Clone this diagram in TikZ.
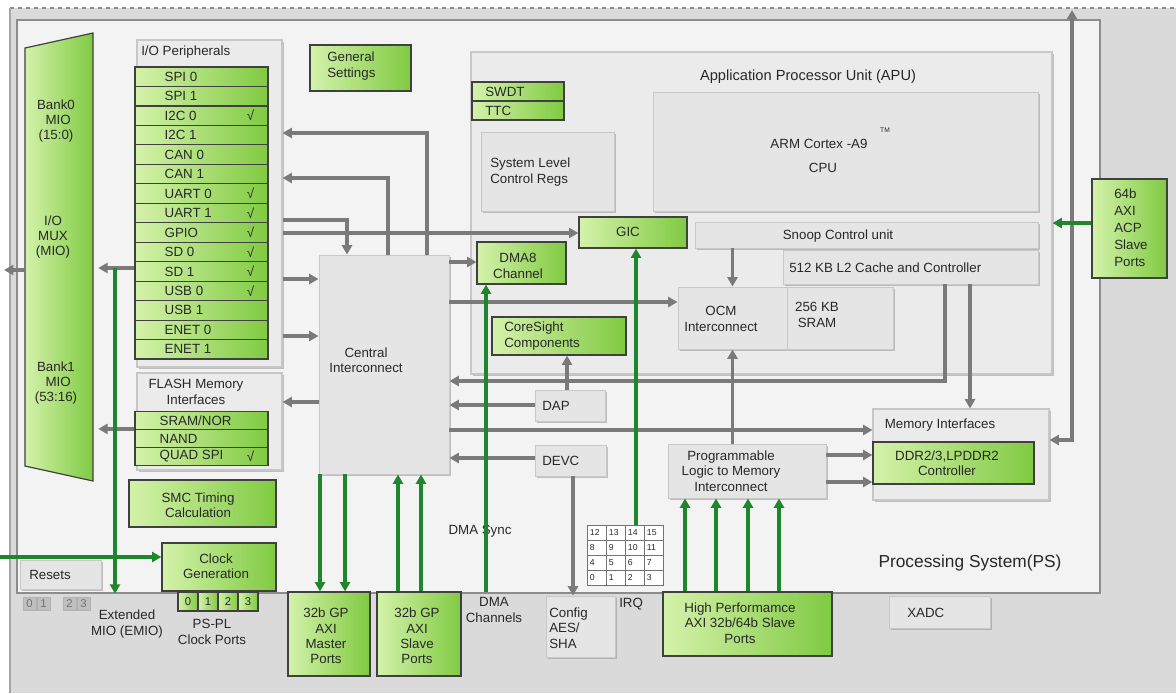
\documentclass[tikz,border=0pt]{standalone}
\usepackage{fontspec}
\setmainfont{Liberation Sans}
\usetikzlibrary{arrows.meta,shadows,fit,calc}
\definecolor{bgc}{RGB}{218,218,218}
\definecolor{psc}{RGB}{243,243,243}
\definecolor{boxc}{RGB}{229,229,229}
\definecolor{boxe}{RGB}{200,200,200}
\definecolor{contc}{RGB}{235,235,235}
\definecolor{gl}{RGB}{212,242,170}
\definecolor{gr}{RGB}{128,202,66}
\definecolor{gline}{RGB}{30,134,44}
\definecolor{arr}{RGB}{122,122,122}
\definecolor{txt}{RGB}{40,40,40}
\newcommand\bx[6]{\node[#1, fit={(#3,#4)(#5,#6)}] (#2) {};}
\tikzset{
  grn/.style={draw=black!75, line width=0.9pt, left color=gl, right color=gr, inner sep=0pt},
  gry/.style={draw=boxe, line width=0.7pt, fill=boxc, inner sep=0pt,
    drop shadow={shadow xshift=1.3pt, shadow yshift=-1.3pt, fill=black!45, opacity=0.5}},
  cont/.style={draw=black!22, line width=0.8pt, fill=contc, inner sep=0pt,
    drop shadow={shadow xshift=1.5pt, shadow yshift=-1.5pt, fill=black!45, opacity=0.5}},
  t/.style={font=\fontsize{10}{11.5}\selectfont, text=txt, inner sep=0pt, align=center},
  tl/.style={t, anchor=west, align=left},
  ga/.style={draw=arr, line width=2.4pt, -{Triangle[length=7pt,width=7.5pt]}},
  gab/.style={draw=arr, line width=2.4pt, {Triangle[length=7pt,width=7.5pt]}-{Triangle[length=7pt,width=7.5pt]}},
  gn/.style={draw=gline, line width=2.6pt, -{Triangle[length=7pt,width=7.5pt]}},
  cell/.style={draw=black!55, line width=0.5pt, fill=white, inner sep=0pt},
}
\begin{document}
\begin{tikzpicture}[x=0.75pt,y=-0.75pt]
\useasboundingbox (0,0) rectangle (1176,693);
\fill[white] (0,0) rectangle (1176,693);
\fill[bgc] (10,8) rectangle (1176,693);
\draw[black!45, dashed, line width=0.8pt] (10,8) -- (1176,8);
\draw[black!35, line width=0.8pt] (10,8) -- (10,693);
% processing system
\node[draw=black!45, line width=1pt, fill=psc, inner sep=0pt, fit={(17,20)(1100,593)}] (ps) {};
% containers
\bx{cont}{apu}{471}{52}{1052}{374}
\bx{cont}{io}{137}{40}{282}{367}
\bx{cont}{flash}{137}{373}{282}{470}
\bx{cont}{memif}{873}{409}{1049}{500}
\node[tl] (tio) at (141,52) {I/O Peripherals};
\node[t] (tflash) at (196,392) {FLASH Memory\\Interfaces};
\node[t, font=\fontsize{11}{13}\selectfont] (tapu) at (808,77) {Application Processor Unit (APU)};
\node[t] (tmemif) at (940,425) {Memory Interfaces};
\node[t, font=\fontsize{13}{15}\selectfont] (tps) at (970,563) {Processing System(PS)};
% MIO
\node[inner sep=0pt, fit={(25,33)(93,481)}] (mio) {};
\path[grn] (25,48) -- (93,33) -- (93,481) -- (25,466) -- cycle;
\node[t] (tb0) at (56,121) {Bank0\\\,\,MIO\\(15:0)};
\node[t] (tmux) at (53,237) {I/O\\MUX\\(MIO)};
\node[t] (tb1) at (56,383) {Bank1\\\,\,MIO\\(53:16)};
% I/O peripheral rows
\foreach \lab/\ck [count=\i from 0] in {SPI 0/, SPI 1/, I2C 0/√, I2C 1/, CAN 0/, CAN 1/, UART 0/√, UART 1/√, GPIO/√, SD 0/√, SD 1/√, USB 0/√, USB 1/, ENET 0/, ENET 1/}{
  \pgfmathsetmacro\ya{67+19.47*\i}
  \pgfmathsetmacro\yb{67+19.47*(\i+1)}
  \node[grn, fit={(135,\ya)(268,\yb)}] (r\i) {};
  \node[tl] (rt\i) at ($(r\i.west)+(30,0)$) {\lab};
  \node[t] (rc\i) at ($(r\i.east)+(-18,0)$) {\ck};
}
\foreach \lab/\ck [count=\i from 0] in {{SRAM/NOR}/, NAND/, QUAD SPI/√}{
  \pgfmathsetmacro\ya{411.5+18*\i}
  \pgfmathsetmacro\yb{411.5+18*(\i+1)}
  \node[grn, fit={(135,\ya)(268,\yb)}] (f\i) {};
  \node[tl] (ft\i) at ($(f\i.west)+(25,0)$) {\lab};
  \node[t] (fc\i) at ($(f\i.east)+(-18,0)$) {\ck};
}
% left column boxes
\bx{grn}{gen}{310}{45}{411}{91}
\node[tl] (tgen) at (327,66) {General\\Settings};
\bx{grn}{smc}{129}{480}{276}{527}
\node[t] (tsmc) at (198,505) {SMC Timing\\Calculation};
\bx{grn}{clk}{162}{543}{276}{591}
\node[t] (tclk) at (216,566) {Clock\\Generation};
\foreach \n [count=\i from 0] in {0,1,2,3}{
  \node[grn, fit={({178+20*\i},592)({198+20*\i},611)}] (cp\i) {};
  \node[t, font=\fontsize{8.5}{10}\selectfont] (cpt\i) at (cp\i) {\n};
}
\node[t] (tcp) at (212,632) {PS-PL\\Clock Ports};
\bx{gry}{rst}{20}{560}{101}{589}
\node[tl] (trst) at (29,575) {Resets};
\foreach \n/\xa in {0/23,1/37,2/63,3/77}{
  \node[draw=black!30, fill=black!25, inner sep=0pt, fit={(\xa,597)({\xa+13},610)}] (rb\n) {};
  \node[t, text=black!55, font=\fontsize{8.5}{10}\selectfont] (rbt\n) at (rb\n) {\n};
}
\node[t] (temio) at (127,624) {Extended\\MIO (EMIO)};
% central interconnect and its neighbours
\bx{gry}{ci}{319}{255}{449}{474}
\node[t] (tci) at (366,360) {Central\\Interconnect};
\bx{grn}{dma}{477}{242}{566}{284}
\node[t] (tdma) at (518,266) {DMA8\\Channel};
\bx{grn}{cs}{492}{317}{626}{355}
\node[tl] (tcs) at (504,336) {CoreSight\\Components};
\bx{gry}{dap}{535}{390}{605}{421}
\node[tl] (tdap) at (542,406) {DAP};
\bx{gry}{devc}{535}{445}{606}{476}
\node[tl] (tdevc) at (542,461) {DEVC};
\bx{gry}{cfg}{546}{596}{615}{657}
\node[tl] (tcfg) at (549,628) {Config\\AES/\\SHA};
\bx{grn}{mst}{288}{592}{370}{676}
\node[t] (tmst) at (326,636) {32b GP\\AXI\\Master\\Ports};
\bx{grn}{slv}{377}{592}{461}{676}
\node[t] (tslv) at (417,636) {32b GP\\AXI\\Slave\\Ports};
\node[t] (tsync) at (480,531) {DMA Sync};
\node[t] (tdmach) at (494,610) {DMA\\Channels};
% IRQ grid
\node[inner sep=0pt, fit={(587,525)(663,585)}] (irq) {};
\foreach \r in {0,1,2,3}{
  \foreach \c in {0,1,2,3}{
    \pgfmathtruncatemacro\num{12-4*\r+\c}
    \node[cell, fit={({587+19*\c},{525+15*\r})({606+19*\c},{540+15*\r})}] (ic\r\c) {};
    \node[t, font=\fontsize{6.5}{7}\selectfont, anchor=west] (ict\r\c) at ($(ic\r\c.west)+(3,0)$) {\num};
  }
}
\node[tl] (tirq) at (619,604) {IRQ};
% high performance / PL to memory
\bx{grn}{hp}{663}{592}{832}{656}
\node[t] (thp) at (740,623) {High Performamce\\AXI 32b/64b Slave\\Ports};
\bx{gry}{plm}{668}{444}{826}{498}
\node[t] (tplm) at (731,471) {Programmable\\Logic to Memory\\Interconnect};
% APU contents
\bx{grn}{swdt}{472}{82}{564}{101}
\node[tl] (tswdt) at (485,92) {SWDT};
\bx{grn}{ttc}{472}{101}{564}{120}
\node[tl] (tttc) at (485,111) {TTC};
\bx{gry}{sys}{481}{132}{614}{211}
\node[tl] (tsys) at (490,172) {System Level\\Control Regs};
\bx{gry}{cpu}{653}{92}{1038}{211}
\node[t] (tcpu) at (819,144) {ARM Cortex -A9};
\node[t] (tcpu2) at (823,168) {CPU};
\node[t, font=\fontsize{5}{6}\selectfont] (ttm) at (885,130) {TM};
\bx{grn}{gic}{579}{217}{687}{248}
\node[t] (tgic) at (628,232) {GIC};
\bx{gry}{snoop}{695}{222}{1038}{248}
\node[t] (tsnoop) at (838,236) {Snoop Control unit};
\bx{gry}{l2}{783}{250}{1038}{284}
\node[tl] (tl2) at (789,268) {512 KB L2 Cache and Controller};
\bx{gry}{ocm}{678}{287}{787}{349}
\node[t] (tocm) at (721,319) {OCM\\Interconnect};
\bx{gry}{sram}{787}{287}{893}{349}
\node[t] (tsram) at (817,315) {256 KB\\SRAM};
% memory / others
\bx{grn}{ddr}{873}{442}{1034}{484}
\node[t] (tddr) at (947,463) {DDR2/3,LPDDR2\\Controller};
\bx{gry}{xadc}{889}{596}{990}{628}
\node[tl] (txadc) at (907,613) {XADC};
\bx{grn}{acp}{1092}{179}{1167}{278}
\node[tl, font=\fontsize{10}{12.8}\selectfont] (tacp) at (1114,228) {64b\\AXI\\ACP\\Slave\\Ports};
% free ends
\coordinate (topv) at (1072,10);
\coordinate (mioout) at (4,270);
\coordinate (clkin) at (0,557);
\coordinate (emio0) at (115,268);
\coordinate (dmain) at (486,592);
% grey connectors
\draw[ga] (ci.north -| 427,0) |- (io.east |- 0,133);
\draw[ga] (ci.north -| 388,0) |- (io.east |- 0,178);
\draw[ga] (io.east |- 0,220) -| (ci.north -| 347,0);
\draw[ga] (io.east |- 0,233) -- (gic.west |- 0,233);
\draw[ga] (io.east |- 0,279) -- (ci.west |- 0,279);
\draw[ga] (io.east |- 0,336) -- (ci.west |- 0,336);
\draw[ga] (ci.west |- 0,402) -- (flash.east |- 0,402);
\draw[ga] (ci.east |- 0,262) -- (dma.west |- 0,262);
\draw[ga] (ci.east |- 0,302) -- (ocm.west |- 0,302);
\draw[ga] (ci.east |- 0,430) -- (memif.west |- 0,430);
\draw[ga] (l2.south -| 945,0) |- (ci.east |- 0,381);
\draw[ga] (dap.west |- 0,405) -- (ci.east |- 0,405);
\draw[ga] (devc.west |- 0,458) -- (ci.east |- 0,458);
\draw[ga] (dap.north -| 567,0) -- (cs.south -| 567,0);
\draw[ga] (devc.south -| 573,0) -- (cfg.north -| 573,0);
\draw[ga] (snoop.south -| ocm.north) -- (ocm.north);
\draw[ga] (plm.north -| ocm.south) -- (ocm.south);
\draw[ga] (plm.east |- 0,455) -- (ddr.west |- 0,455);
\draw[ga] (plm.east |- 0,482) -- (ddr.west |- 0,482);
\draw[ga] (l2.south -| 970,0) -- (memif.north -| 970,0);
\draw[gab] (topv) |- (memif.east |- 0,440);
\draw[ga] (r10.west |- emio0) -- ($(mio.east |- emio0)+(5,0)$);
\draw[ga] (f1.north west) -- ($(mio.east |- f1.north west)+(5,0)$);
\draw[ga] (mio.west |- mioout) -- (mioout);
% green connectors
\draw[gn] (ci.south -| 320,0) -- (mst.north -| 320,0);
\draw[gn] (ci.south -| 345,0) -- (mst.north -| 345,0);
\draw[gn] (slv.north -| 398,0) -- (ci.south -| 398,0);
\draw[gn] (slv.north -| 421,0) -- (ci.south -| 421,0);
\draw[gn] (dmain) -- (dma.south -| dmain);
\draw[gn] (irq.north -| 636,0) -- (gic.south -| 636,0);
\foreach \xx in {685,716,748,779}{
  \draw[gn] (hp.north -| \xx,0) -- (plm.south -| \xx,0);
}
\draw[gn] (acp.west |- 0,223) -- (apu.east |- 0,223);
\draw[gn] (emio0) -- (ps.south -| emio0);
\draw[gn] (clkin) -- (clk.west |- clkin);
\end{tikzpicture}
\end{document}
